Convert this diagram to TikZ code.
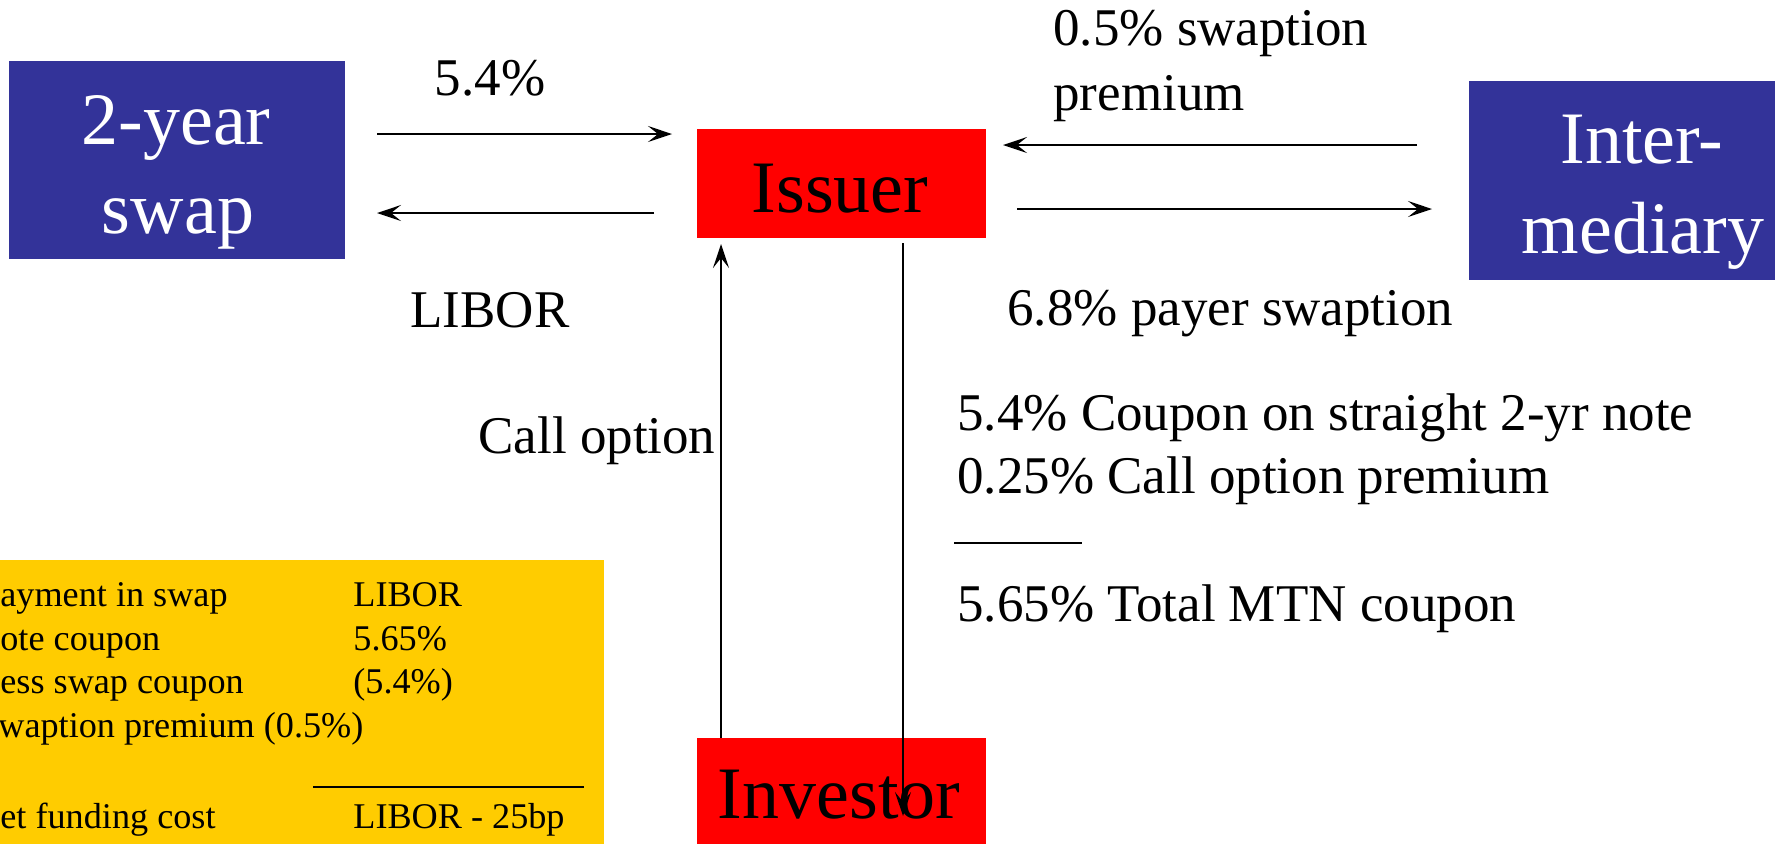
\documentclass[tikz,border=0pt]{standalone}
\usepackage{fontspec}
\setmainfont{Liberation Serif}
\usetikzlibrary{arrows.meta}
\definecolor{boxblue}{RGB}{51,51,153}
\definecolor{boxred}{RGB}{255,0,0}
\definecolor{boxyellow}{RGB}{255,204,0}
\tikzset{
  bluebox/.style={fill=boxblue, draw=none, inner sep=0pt},
  redbox/.style={fill=boxred, draw=none, inner sep=0pt},
  yellowbox/.style={fill=boxyellow, draw=none, inner sep=0pt},
  bigwhite/.style={text=white, font=\fontsize{37pt}{44pt}\selectfont, inner sep=0pt, anchor=base},
  bigblack/.style={text=black, font=\fontsize{37pt}{44pt}\selectfont, inner sep=0pt, anchor=base},
  lbl/.style={font=\fontsize{26.5pt}{32pt}\selectfont, inner sep=0pt, anchor=base west},
  small/.style={font=\fontsize{18.1pt}{22pt}\selectfont, inner sep=0pt, anchor=base west},
  flow/.style={line width=1pt, -{Stealth[length=12pt,width=8pt,inset=5pt]}},
}
\begin{document}
\begin{tikzpicture}[x=0.5pt, y=-0.5pt]
\useasboundingbox (0,0) rectangle (1775,843);
\clip (0,0) rectangle (1775,843);
% boxes
\node[bluebox, minimum width=168pt, minimum height=99pt] (swap) at (177,160) {};
\node[redbox, minimum width=144.5pt, minimum height=54.5pt] (issuer) at (841.5,183.5) {};
\node[bluebox, minimum width=174pt, minimum height=99.5pt] (inter) at (1643,180.5) {};
\node[redbox, minimum width=144.5pt, minimum height=54.5pt] (investor) at (841.5,792.5) {};
\node[yellowbox, minimum width=312pt, minimum height=170pt] (table) at (292,730) {};
% box texts
\node[bigwhite] (swapA) at (176,144) {2-year};
\node[bigwhite] (swapB) at (178,233) {swap};
\node[bigblack] (issuerT) at (840,212) {Issuer};
\node[bigwhite] (interA) at (1642,163) {Inter-};
\node[bigwhite] (interB) at (1643,253) {mediary};
% connector end points
\coordinate (a1s) at (377,134);  \coordinate (a1e) at (672,134);
\coordinate (a2s) at (654,213);  \coordinate (a2e) at (377,213);
\coordinate (a3s) at (1417,145); \coordinate (a3e) at (1003,145);
\coordinate (a4s) at (1017,209); \coordinate (a4e) at (1432,209);
\coordinate (a5s) at (721,738);  \coordinate (a5e) at (721,244);
\coordinate (a6s) at (903,243);  \coordinate (a6e) at (903,816);
\draw[flow] (a1s) -- (a1e);
\draw[flow] (a2s) -- (a2e);
\draw[flow] (a3s) -- (a3e);
\draw[flow] (a4s) -- (a4e);
\draw[flow] (a5s) -- (a5e);
\node[bigblack] (investorT) at (839,818) {Investor};
\draw[flow] (a6s) -- (a6e);
% labels
\node[lbl, anchor=base] (l54) at (490,95) {5.4\%};
\node[lbl] (llibor) at (410,327) {LIBOR};
\node[lbl] (lprem1) at (1053,45) {0.5\% swaption};
\node[lbl] (lprem2) at (1053,110) {premium};
\node[lbl] (lpayer) at (1007,325) {6.8\% payer swaption};
\node[lbl] (lcall) at (478,453) {Call option};
\node[lbl] (r1) at (957,430) {5.4\% Coupon on straight 2-yr note};
\node[lbl] (r2) at (957,493) {0.25\% Call option premium};
\coordinate (r3a) at (954,543); \coordinate (r3b) at (1082,543);
\draw[line width=0.8pt] (r3a) -- (r3b);
\node[lbl] (r4) at (957,621) {5.65\% Total MTN coupon};
% table text
\node[small] (t1) at (0,606) {ayment in swap};
\node[small] (t2) at (0,650) {ote coupon};
\node[small] (t3) at (0,693) {ess swap coupon};
\node[small] (t4) at (-2,737) {waption premium (0.5\%)};
\node[small] (t5) at (0,828) {et funding cost};
\node[small] (v1) at (353,606) {LIBOR};
\node[small] (v2) at (353,650) {5.65\%};
\node[small] (v3) at (353,693) {(5.4\%)};
\coordinate (tra) at (313,787); \coordinate (trb) at (584,787);
\draw[line width=1.2pt] (tra) -- (trb);
\node[small] (v5) at (353,828) {LIBOR - 25bp};
\end{tikzpicture}
\end{document}
